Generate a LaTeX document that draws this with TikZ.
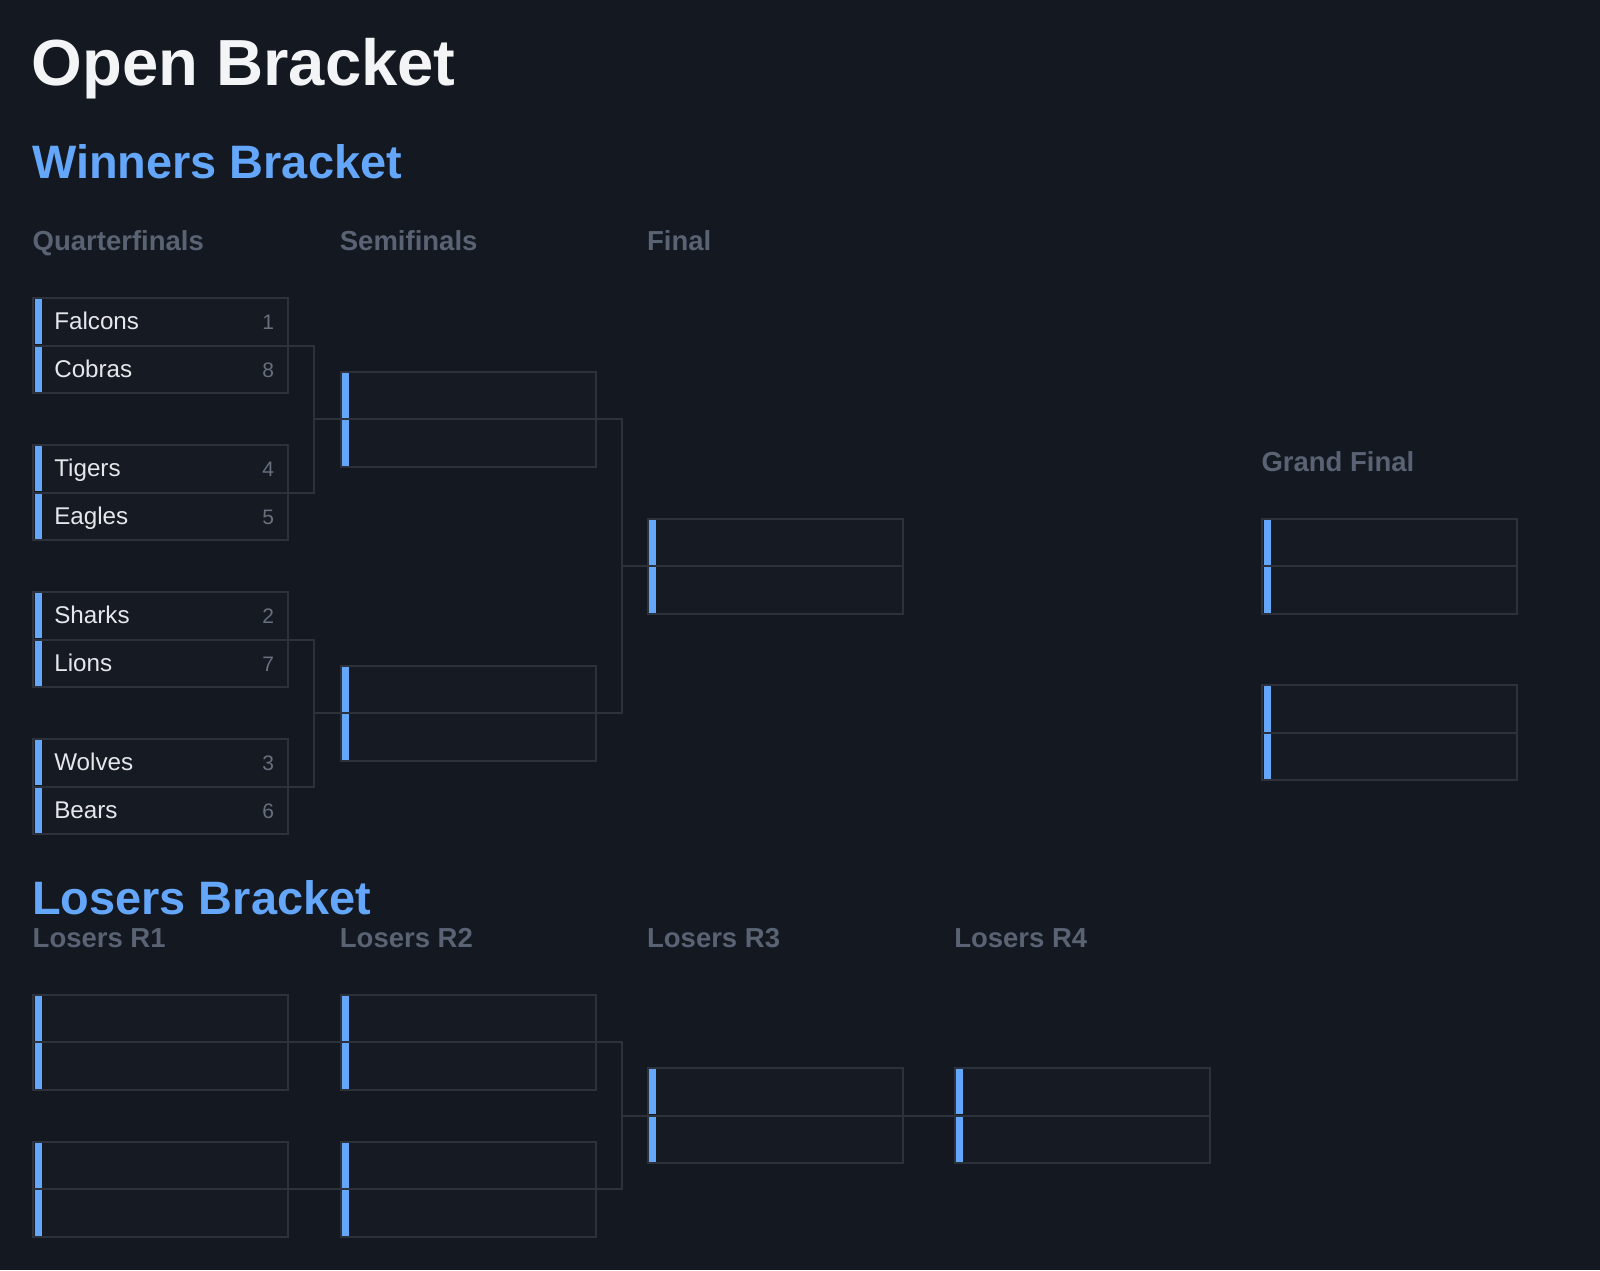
\documentclass[tikz,border=0pt]{standalone}
\usepackage{fontspec}
\setmainfont{Liberation Sans}
\usetikzlibrary{calc}
\definecolor{bgc}{RGB}{20,24,32}
\definecolor{boxfill}{RGB}{22,26,35}
\definecolor{bordc}{RGB}{44,49,60}
\definecolor{bluec}{RGB}{99,166,250}
\definecolor{titlec}{RGB}{243,244,246}
\definecolor{teamc}{RGB}{229,231,235}
\definecolor{labelc}{RGB}{90,99,115}
\definecolor{seedc}{RGB}{104,112,126}
\tikzset{
  matchbox/.style={draw=bordc, fill=boxfill, line width=2pt, minimum width=255pt, minimum height=95pt, inner sep=0pt, outer sep=0pt},
  divline/.style={draw=bordc, line width=2pt},
  conn/.style={draw=bordc, line width=2pt},
  barblue/.style={fill=bluec},
  titletxt/.style={text=titlec, inner sep=0pt, anchor=base west, font=\fontsize{65.2}{78}\selectfont\bfseries},
  headtxt/.style={text=bluec, inner sep=0pt, anchor=base west, font=\fontsize{46.9}{56}\selectfont\bfseries},
  roundtxt/.style={text=labelc, inner sep=0pt, anchor=base west, font=\fontsize{27.5}{33}\selectfont\bfseries},
  teamtxt/.style={text=teamc, inner sep=0pt, anchor=base west, font=\fontsize{24.2}{29}\selectfont},
  seedtxt/.style={text=seedc, inner sep=0pt, anchor=base east, font=\fontsize{21}{25}\selectfont}
}
\newcommand\mymatch[2]{%
  \node[matchbox] (#1) at (#2) {};
  \draw[divline] (#1.west) -- (#1.east);
  \fill[barblue] ($(#1.north west)+(1.5,1)$) rectangle ($(#1.west)+(8.5,-1.2)$);
  \fill[barblue] ($(#1.west)+(1.5,1.2)$) rectangle ($(#1.south west)+(8.5,-1)$);
}
\newcommand\myteams[5]{%
  \node[teamtxt] (#1-t1) at ($(#1.west)+(20.8,-16)$) {#2};
  \node[seedtxt] (#1-s1) at ($(#1.east)+(-14,-16)$) {#3};
  \node[teamtxt] (#1-t2) at ($(#1.west)+(20.8,32)$) {#4};
  \node[seedtxt] (#1-s2) at ($(#1.east)+(-14,32)$) {#5};
}
\begin{document}
\begin{tikzpicture}[x=1pt,y=-1pt]
\useasboundingbox (0,0) rectangle (1600,1270);
\fill[bgc] (0,0) rectangle (1600,1270);

% titles
\node[titletxt] (title) at (31.5,85) {Open Bracket};
\node[headtxt] (wbhead) at (32,178.3) {Winners Bracket};
\node[headtxt] (lbhead) at (32,914) {Losers Bracket};

% round labels
\node[roundtxt] (lqf) at (32.5,250) {Quarterfinals};
\node[roundtxt] (lsf) at (339.7,250) {Semifinals};
\node[roundtxt] (lf) at (646.9,250) {Final};
\node[roundtxt] (lgf) at (1261.3,471.7) {Grand Final};
\node[roundtxt] (llr1) at (32.5,947.3) {Losers R1};
\node[roundtxt] (llr2) at (339.7,947.3) {Losers R2};
\node[roundtxt] (llr3) at (646.9,947.3) {Losers R3};
\node[roundtxt] (llr4) at (954.1,947.3) {Losers R4};

% coordinates of match centres
\coordinate (cqf1) at (160.8,345.6);
\coordinate (cqf2) at (160.8,492.6);
\coordinate (cqf3) at (160.8,639.6);
\coordinate (cqf4) at (160.8,786.6);
\coordinate (csf1) at (468,419.1);
\coordinate (csf2) at (468,713.1);
\coordinate (cfin) at (775.2,566.1);
\coordinate (cgf1) at (1389.6,566.1);
\coordinate (cgf2) at (1389.6,732.8);
\coordinate (clr11) at (160.8,1042);
\coordinate (clr12) at (160.8,1189);
\coordinate (clr21) at (468,1042);
\coordinate (clr22) at (468,1189);
\coordinate (clr3) at (775.2,1115.5);
\coordinate (clr4) at (1082.4,1115.5);

% connectors (drawn first)
\coordinate (j1) at ($(cqf1)!0.5!(cqf2)+(153.5,0)$);
\coordinate (j2) at ($(cqf3)!0.5!(cqf4)+(153.5,0)$);
\coordinate (j3) at ($(csf1)!0.5!(csf2)+(153.6,0)$);
\coordinate (j4) at ($(clr21)!0.5!(clr22)+(153.6,0)$);
\draw[conn] ($(cqf1)+(127.5,0)$) -| (j1) |- ($(cqf2)+(127.5,0)$);
\draw[conn] (j1) -- ($(csf1)+(-127.5,0)$);
\draw[conn] ($(cqf3)+(127.5,0)$) -| (j2) |- ($(cqf4)+(127.5,0)$);
\draw[conn] (j2) -- ($(csf2)+(-127.5,0)$);
\draw[conn] ($(csf1)+(127.5,0)$) -| (j3) |- ($(csf2)+(127.5,0)$);
\draw[conn] (j3) -- ($(cfin)+(-127.5,0)$);
\draw[conn] ($(clr11)+(127.5,0)$) -- ($(clr21)+(-127.5,0)$);
\draw[conn] ($(clr12)+(127.5,0)$) -- ($(clr22)+(-127.5,0)$);
\draw[conn] ($(clr21)+(127.5,0)$) -| (j4) |- ($(clr22)+(127.5,0)$);
\draw[conn] (j4) -- ($(clr3)+(-127.5,0)$);
\draw[conn] ($(clr3)+(127.5,0)$) -- ($(clr4)+(-127.5,0)$);

% matches
\mymatch{qf1}{cqf1}
\mymatch{qf2}{cqf2}
\mymatch{qf3}{cqf3}
\mymatch{qf4}{cqf4}
\mymatch{sf1}{csf1}
\mymatch{sf2}{csf2}
\mymatch{fin}{cfin}
\mymatch{gf1}{cgf1}
\mymatch{gf2}{cgf2}
\mymatch{lr11}{clr11}
\mymatch{lr12}{clr12}
\mymatch{lr21}{clr21}
\mymatch{lr22}{clr22}
\mymatch{lr3}{clr3}
\mymatch{lr4}{clr4}

\myteams{qf1}{Falcons}{1}{Cobras}{8}
\myteams{qf2}{Tigers}{4}{Eagles}{5}
\myteams{qf3}{Sharks}{2}{Lions}{7}
\myteams{qf4}{Wolves}{3}{Bears}{6}
\end{tikzpicture}
\end{document}
